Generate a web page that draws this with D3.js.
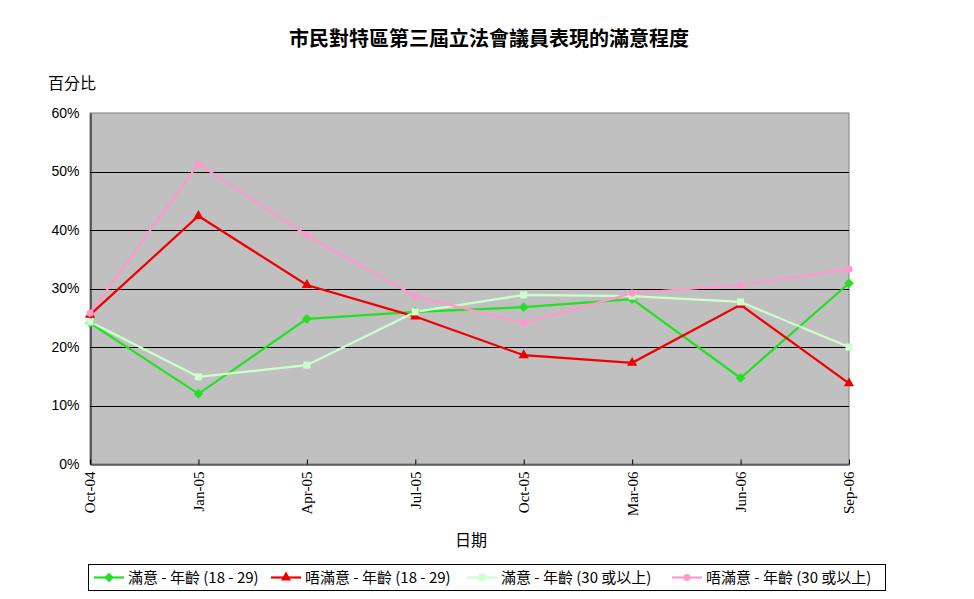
<!DOCTYPE html>
<html><head><meta charset="utf-8">
<script src="https://cdn.jsdelivr.net/npm/d3@7"></script>
<style>body{margin:0;background:#fff}svg{display:block}</style>
</head><body>
<script>
const categories = ["Oct-04","Jan-05","Apr-05","Jul-05","Oct-05","Mar-06","Jun-06","Sep-06"];
const satisfied1829 = [24.1, 12.0, 24.8, 26.0, 26.8, 28.2, 14.7, 30.9];
const dissatisfied1829 = [25.5, 42.4, 30.6, 25.2, 18.6, 17.3, 27.2, 13.8];
const satisfied30 = [24.3, 14.9, 16.9, 26.0, 28.9, 28.7, 27.7, 20.0];
const dissatisfied30 = [25.8, 51.3, 39.1, 28.7, 24.1, 29.2, 30.6, 33.3];
const yTicks = [0, 10, 20, 30, 40, 50, 60];
const seriesNames = ["滿意 - 年齡 (18 - 29)", "唔滿意 - 年齡 (18 - 29)", "滿意 - 年齡 (30 或以上)", "唔滿意 - 年齡 (30 或以上)"];
const title = "市民對特區第三屆立法會議員表現的滿意程度";

(function(){
const diamond = d3.symbolDiamond2 || d3.symbolDiamond;
const series = [
  {name: seriesNames[0], values: satisfied1829, color: "#22e022", marker: diamond, size: 60},
  {name: seriesNames[1], values: dissatisfied1829, color: "#ee0000", marker: d3.symbolTriangle, size: 45},
  {name: seriesNames[2], values: satisfied30, color: "#ccffcc", marker: d3.symbolSquare, size: 50},
  {name: seriesNames[3], values: dissatisfied30, color: "#ff99cc", marker: d3.symbolCircle, size: 40}
];

const W = 974, H = 599;
const svg = d3.select("body").append("svg").attr("width", W).attr("height", H);
const cjk = "'Noto Sans CJK TC','Noto Sans CJK SC',sans-serif";

const pL = 90, pR = 849, pT = 113, pB = 464;
const x = d3.scalePoint().domain(categories).range([pL, pR]);
const y = d3.scaleLinear().domain([0, 60]).range([pB, pT]);

svg.append("rect").attr("x", pL).attr("y", pT).attr("width", pR-pL).attr("height", pB-pT)
  .attr("fill", "#c0c0c0").attr("stroke", "#808080").attr("stroke-width", 1);

svg.append("g").selectAll("line").data(yTicks.filter(t => t > 0 && t < 60)).join("line")
  .attr("x1", pL).attr("x2", pR).attr("y1", d => Math.round(y(d))+0.5).attr("y2", d => Math.round(y(d))+0.5)
  .attr("stroke", "#000").attr("stroke-width", 1);

const yAxis = d3.axisLeft(y).tickValues(yTicks).tickSize(0).tickPadding(11).tickFormat(d => d + "%");
const gy = svg.append("g").attr("transform", `translate(${pL+0.5},0)`).call(yAxis);
gy.select(".domain").attr("stroke", "#000");
gy.selectAll("text").attr("font-family", "'Liberation Sans',Arial,sans-serif").attr("font-size", 14).attr("fill", "#000");

const xAxis = d3.axisBottom(x).tickSizeInner(-5).tickSizeOuter(0).tickPadding(0);
const gx = svg.append("g").attr("transform", `translate(0,${pB+0.5})`).call(xAxis);
gx.select(".domain").attr("stroke", "#000");
gx.selectAll(".tick line").attr("stroke", "#000");
gx.selectAll("text").attr("font-family", "'Liberation Serif','Times New Roman',serif").attr("font-size", 15).attr("fill", "#000")
  .attr("transform", "rotate(-90)").attr("text-anchor", "end").attr("dy", "0.33em").attr("x", -7).attr("y", 0);

const line = d3.line().x((d, i) => x(categories[i])).y(d => y(d));
const gs = svg.append("g");
series.forEach(s => {
  gs.append("path").datum(s.values).attr("d", line).attr("fill", "none")
    .attr("stroke", s.color).attr("stroke-width", 2.2);
});
series.forEach(s => {
  gs.append("g").selectAll("path").data(s.values).join("path")
    .attr("transform", (d, i) => `translate(${x(categories[i])},${y(d)})`)
    .attr("d", d3.symbol().type(s.marker).size(s.size))
    .attr("fill", s.color);
});

svg.append("text").attr("x", 489).attr("y", 46).attr("text-anchor", "middle")
  .attr("font-family", cjk).attr("font-size", 20).attr("font-weight", "bold").text(title);
svg.append("text").attr("x", 48).attr("y", 89)
  .attr("font-family", cjk).attr("font-size", 16).text("百分比");
svg.append("text").attr("x", 471).attr("y", 546).attr("text-anchor", "middle")
  .attr("font-family", cjk).attr("font-size", 16).text("日期");

const lg = svg.append("g");
lg.append("rect").attr("x", 88.5).attr("y", 564.5).attr("width", 797).attr("height", 26)
  .attr("fill", "#fff").attr("stroke", "#000");
const starts = [94, 271, 467, 672];
series.forEach((s, i) => {
  const x0 = starts[i], yy = 577.5;
  lg.append("line").attr("x1", x0).attr("x2", x0+30).attr("y1", yy).attr("y2", yy)
    .attr("stroke", s.color).attr("stroke-width", 2.2);
  lg.append("path").attr("transform", `translate(${x0+15},${yy})`)
    .attr("d", d3.symbol().type(s.marker).size(s.size)).attr("fill", s.color);
  lg.append("text").attr("x", x0+34).attr("y", yy+5.5)
    .attr("font-family", cjk).attr("font-size", 15).text(s.name);
});
})();
</script>
</body></html>
